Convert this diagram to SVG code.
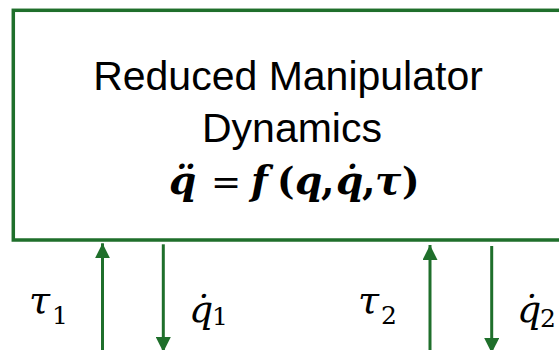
<svg xmlns="http://www.w3.org/2000/svg" width="559" height="350" viewBox="0 0 559 350">
<style>
.box{fill:#fff;stroke:#1f6f2b;stroke-width:3.5}
.wire{stroke:#1f6f2b;stroke-width:3;fill:none}
.sans{font-family:"Liberation Sans",Arial,sans-serif;font-size:41px;fill:#000;text-anchor:middle}
.math{font-family:"DejaVu Serif","Liberation Serif",serif;fill:#000}
.bi{font-weight:bold;font-style:italic}
.it{font-style:italic}
</style>
<defs>
<marker id="ah" viewBox="0 0 15 15" refX="15" refY="7.5" markerWidth="15" markerHeight="15" markerUnits="userSpaceOnUse" orient="auto">
<path d="M0,0 L15,7.5 L0,15 Z" fill="#1f6f2b"/>
</marker>
</defs>
<rect width="559" height="350" fill="#fff"/>
<g id="dynamics">
<rect class="box" x="13.3" y="10.3" width="560" height="229.7"/>
<text class="sans" x="288" y="90">Reduced Manipulator</text>
<text class="sans" x="292" y="141.7">Dynamics</text>
<text class="math" font-size="39" y="194"><tspan class="bi" x="169">q̈</tspan><tspan x="211" font-size="36">=</tspan><tspan class="bi" x="251">f</tspan><tspan font-weight="bold" font-size="37" x="277">(</tspan><tspan class="bi" x="295">q</tspan><tspan font-weight="bold" x="321">,</tspan><tspan class="bi" x="336">q̇</tspan><tspan font-weight="bold" x="362">,</tspan><tspan class="bi" x="375">τ</tspan><tspan font-weight="bold" font-size="37" x="402">)</tspan></text>
</g>
<g id="connectors">
<line class="wire" x1="102.5" y1="352" x2="102.5" y2="243.3" marker-end="url(#ah)"/>
<line class="wire" x1="163.3" y1="244.3" x2="163.3" y2="352" marker-end="url(#ah)"/>
<line class="wire" x1="430" y1="352" x2="430" y2="245" marker-end="url(#ah)"/>
<line class="wire" x1="491.7" y1="246" x2="491.7" y2="353" marker-end="url(#ah)"/>
</g>
<g id="labels">
<text class="math" font-size="38"><tspan class="it" x="29" y="313">τ</tspan><tspan font-size="25" x="52" y="324">1</tspan></text>
<text class="math" font-size="38"><tspan class="it" x="189" y="322">q̇</tspan><tspan font-size="25" x="212" y="325">1</tspan></text>
<text class="math" font-size="38"><tspan class="it" x="358" y="313">τ</tspan><tspan font-size="25" x="381" y="324">2</tspan></text>
<text class="math" font-size="38"><tspan class="it" x="517" y="322">q̇</tspan><tspan font-size="25" x="540" y="327">2</tspan></text>
</g>
</svg>
